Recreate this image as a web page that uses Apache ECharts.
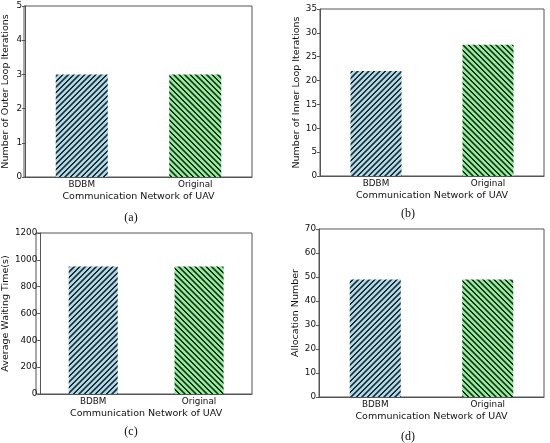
<!DOCTYPE html>
<html><head><meta charset="utf-8">
<script src="https://cdn.jsdelivr.net/npm/echarts@6/dist/echarts.min.js"></script>
<style>html,body{margin:0;padding:0;background:#fff}#c{width:550px;height:443px}</style>
</head><body><div id="c"></div>
<script>
const categories = ['BDBM', 'Original'];
const outerLoop = [3, 3];
const innerLoop = [22, 27.5];
const waitingTime = [950, 950];
const allocation = [49, 49];
const yMax = [5, 35, 1200, 70];
const yInterval = [1, 5, 200, 10];
const yNames = ['Number of Outer Loop Iterations', 'Number of Inner Loop Iterations', 'Average Waiting Time(s)', 'Allocation Number'];
const xName = 'Communication Network of UAV';
const captions = ['(a)', '(b)', '(c)', '(d)'];
const seriesData = [outerLoop, innerLoop, waitingTime, allocation];

function hatch(bg, dir) {
  const p = 11, s = 4;
  const cv = document.createElement('canvas');
  cv.width = p * s; cv.height = p * s;
  const g = cv.getContext('2d');
  g.scale(s, s);
  g.fillStyle = bg; g.fillRect(0, 0, p, p);
  g.strokeStyle = 'rgba(15,25,35,0.92)'; g.lineWidth = 1.5;
  g.beginPath();
  const h = p / 2;
  for (let k = -2; k <= 2; k++) {
    const o = k * h;
    if (dir > 0) { g.moveTo(-2 + o, p + 2); g.lineTo(p + 2 + o, -2); }
    else { g.moveTo(-2 + o, -2); g.lineTo(p + 2 + o, p + 2); }
  }
  g.stroke();
  const out = document.createElement('canvas');
  out.width = p; out.height = p;
  out.getContext('2d').drawImage(cv, 0, 0, p, p);
  return out;
}
const blueImg = hatch('#ADD8E6', 1);
const greenImg = hatch('#90EE90', -1);

const grids = [
  { left: 24, top: 6, width: 228, height: 171 },
  { left: 320, top: 9, width: 224, height: 167 },
  { left: 36, top: 233, width: 216, height: 161 },
  { left: 319, top: 229, width: 225, height: 168 }
];
const barW = [52, 51, 49, 51];
const yGap = [14, 15, 26, 15];
const capPos = [[126, 215], [403, 211], [126, 429], [403, 434]];

const ff = 'DejaVu Sans';
const lineCol = '#555';
const option = {
  animation: false,
  backgroundColor: '#fff',
  title: captions.map((c, i) => ({
    text: c, left: capPos[i][0], top: capPos[i][1] - 8,
    textAlign: 'center',
    textStyle: { fontFamily: 'Liberation Serif', fontSize: 12, fontWeight: 'normal', color: '#111' }
  })),
  grid: grids.map(g => Object.assign({ containLabel: false }, g)),
  xAxis: grids.map((g, i) => ({
    type: 'category', gridIndex: i, data: categories,
    name: xName, nameLocation: 'middle', nameGap: 15,
    nameTextStyle: { fontFamily: ff, fontSize: 9.5, color: '#111' },
    axisLine: { lineStyle: { color: lineCol, width: 1 } },
    axisTick: { alignWithLabel: true, length: 3, lineStyle: { color: lineCol } },
    axisLabel: { fontFamily: ff, fontSize: 8.8, color: '#111', margin: 3 },
    splitLine: { show: false }
  })),
  yAxis: grids.map((g, i) => ({
    type: 'value', gridIndex: i, min: 0, max: yMax[i], interval: yInterval[i],
    name: yNames[i], nameLocation: 'middle', nameGap: yGap[i],
    nameTextStyle: { fontFamily: ff, fontSize: 9.5, color: '#111' },
    axisLine: { show: true, lineStyle: { color: lineCol, width: 1 } },
    axisTick: { show: true, length: 3, lineStyle: { color: lineCol } },
    axisLabel: { fontFamily: ff, fontSize: 8.8, color: '#111', margin: 3, formatter: v => String(v) },
    splitLine: { show: false }
  })),
  series: seriesData.map((d, i) => ({
    type: 'bar', xAxisIndex: i, yAxisIndex: i, barWidth: barW[i],
    data: d.map((v, j) => ({
      value: v,
      itemStyle: { color: { image: j === 0 ? blueImg : greenImg, repeat: 'repeat' } }
    }))
  })),
  graphic: grids.map(g => ({
    type: 'rect', silent: true,
    shape: { x: g.left, y: g.top, width: g.width, height: g.height },
    style: { fill: 'none', stroke: lineCol, lineWidth: 1 }
  }))
};
const chart = echarts.init(document.getElementById('c'));
chart.setOption(option);
</script></body></html>
